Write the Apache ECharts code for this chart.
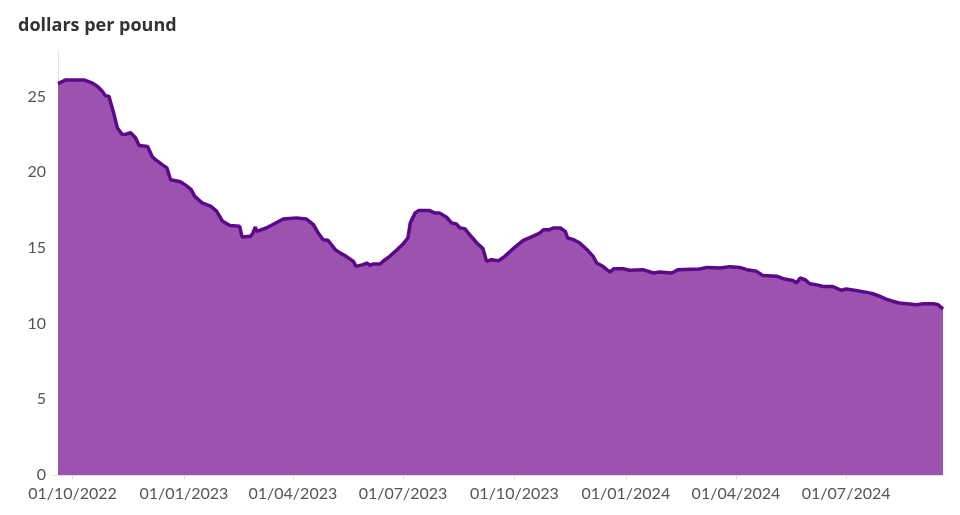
<!DOCTYPE html>
<html>
<head>
<meta charset="utf-8">
<script src="https://cdn.jsdelivr.net/npm/echarts@6/dist/echarts.min.js"></script>
<style>
html,body{margin:0;padding:0;background:#fff;}
#chart{width:960px;height:515px;}
</style>
</head>
<body>
<div id="chart"></div>
<script>
const dates = [
'2022-09-19','2022-09-25','2022-10-11','2022-10-17','2022-10-22','2022-10-26','2022-10-28','2022-10-31',
'2022-11-04','2022-11-07','2022-11-11','2022-11-14','2022-11-18','2022-11-22','2022-11-25','2022-12-02',
'2022-12-06','2022-12-09','2022-12-14','2022-12-18','2022-12-21','2022-12-29','2023-01-03','2023-01-07',
'2023-01-10','2023-01-16','2023-01-23','2023-01-28','2023-02-02','2023-02-08','2023-02-16','2023-02-18',
'2023-02-25','2023-02-27','2023-03-01','2023-03-02','2023-03-10','2023-03-19','2023-03-24','2023-04-04',
'2023-04-12','2023-04-18','2023-04-22','2023-04-26','2023-04-30','2023-05-06','2023-05-11','2023-05-15',
'2023-05-21','2023-05-23','2023-05-29','2023-06-01','2023-06-04','2023-06-06','2023-06-12','2023-06-15',
'2023-06-20','2023-06-26','2023-07-01','2023-07-05','2023-07-07','2023-07-11','2023-07-14','2023-07-23',
'2023-07-27','2023-07-31','2023-08-06','2023-08-10','2023-08-14','2023-08-17','2023-08-21','2023-08-25',
'2023-08-31','2023-09-05','2023-09-08','2023-09-12','2023-09-18','2023-09-23','2023-09-29','2023-10-04',
'2023-10-08','2023-10-16','2023-10-22','2023-10-25','2023-10-30','2023-11-02','2023-11-08','2023-11-12',
'2023-11-14','2023-11-19','2023-11-24','2023-11-30','2023-12-05','2023-12-08','2023-12-13','2023-12-19',
'2023-12-22','2023-12-30','2024-01-04','2024-01-15','2024-01-24','2024-01-29','2024-02-08','2024-02-13',
'2024-03-02','2024-03-08','2024-03-19','2024-03-27','2024-04-04','2024-04-10','2024-04-18','2024-04-23',
'2024-05-05','2024-05-10','2024-05-18','2024-05-21','2024-05-24','2024-05-28','2024-06-01','2024-06-06',
'2024-06-12','2024-06-20','2024-06-27','2024-07-01','2024-07-09','2024-07-18','2024-07-23','2024-07-29',
'2024-08-03','2024-08-09','2024-08-14','2024-08-20','2024-08-28','2024-09-03','2024-09-11','2024-09-15',
'2024-09-19'
];
const prices = [
25.85,26.08,26.08,25.90,25.64,25.30,25.05,25.02,
23.90,22.93,22.49,22.50,22.60,22.27,21.76,21.70,
21.00,20.79,20.50,20.28,19.50,19.36,19.11,18.85,
18.40,17.97,17.75,17.42,16.75,16.47,16.42,15.72,
15.76,15.98,16.38,16.09,16.31,16.69,16.91,16.98,
16.91,16.53,15.98,15.54,15.50,14.88,14.62,14.44,
14.11,13.78,13.89,14.00,13.84,13.93,13.93,14.15,
14.44,14.88,15.26,15.65,16.65,17.31,17.46,17.46,
17.31,17.31,17.02,16.65,16.58,16.31,16.27,15.87,
15.32,14.95,14.11,14.22,14.15,14.44,14.88,15.21,
15.48,15.76,15.98,16.20,16.20,16.31,16.31,16.09,
15.65,15.54,15.32,14.88,14.44,14.00,13.78,13.40,
13.62,13.62,13.52,13.56,13.34,13.40,13.34,13.56,
13.60,13.71,13.67,13.76,13.71,13.56,13.45,13.18,
13.12,12.96,12.85,12.68,13.01,12.90,12.63,12.57,
12.45,12.45,12.19,12.28,12.19,12.06,11.97,11.79,
11.62,11.46,11.36,11.31,11.24,11.31,11.31,11.24,
10.96
];
const tickDates = ['2022-10-01','2023-01-01','2023-04-01','2023-07-01','2023-10-01','2024-01-01','2024-04-01','2024-07-01'];
const yTicks = [0,5,10,15,20,25];

function toTs(s){const p=s.split('-').map(Number);return Date.UTC(p[0],p[1]-1,p[2]);}
function pad(n){return (n<10?'0':'')+n;}
const xTs = dates.map(toTs);
const tickTs = tickDates.map(toTs);

const chart = echarts.init(document.getElementById('chart'));
chart.setOption({
  animation:false,
  backgroundColor:'#fff',
  textStyle:{fontFamily:'Lato, sans-serif'},
  title:{text:'dollars per pound',left:13,top:12,textStyle:{fontFamily:'"Open Sans", sans-serif',fontWeight:'bold',fontSize:18,color:'#333'}},
  grid:{left:58,right:17,top:51,bottom:40,containLabel:false},
  xAxis:{
    type:'value',
    min:xTs[0],max:xTs[xTs.length-1],
    axisLine:{show:true,lineStyle:{color:'#e6d8ec',width:1}},
    axisTick:{show:true,customValues:tickTs,length:4,lineStyle:{color:'#ddd'}},
    axisLabel:{customValues:tickTs,color:'#555',fontSize:16,margin:11,showMinLabel:true,showMaxLabel:true,
      formatter:function(v){const d=new Date(v);return pad(d.getUTCDate())+'/'+pad(d.getUTCMonth()+1)+'/'+d.getUTCFullYear();}},
    splitLine:{show:false}
  },
  yAxis:{
    type:'value',min:0,max:28,
    axisLine:{show:true,lineStyle:{color:'#e3e3e3'}},
    axisTick:{show:true,customValues:[0],length:5,lineStyle:{color:'#ddd'}},
    axisLabel:{customValues:yTicks,color:'#555',fontSize:16,margin:12},
    splitLine:{show:true,customValues:yTicks.slice(1),lineStyle:{color:'#e8e8e8',width:1}}
  },
  series:[
    {
      type:'line',
      data:xTs.map((t,i)=>[t,prices[i]]),
      showSymbol:false,
      lineStyle:{color:'#5a0a88',width:3.5},
      areaStyle:{color:'rgba(150,74,171,0.95)',opacity:1,origin:'start'}
    }
  ]
});
</script>
</body>
</html>
